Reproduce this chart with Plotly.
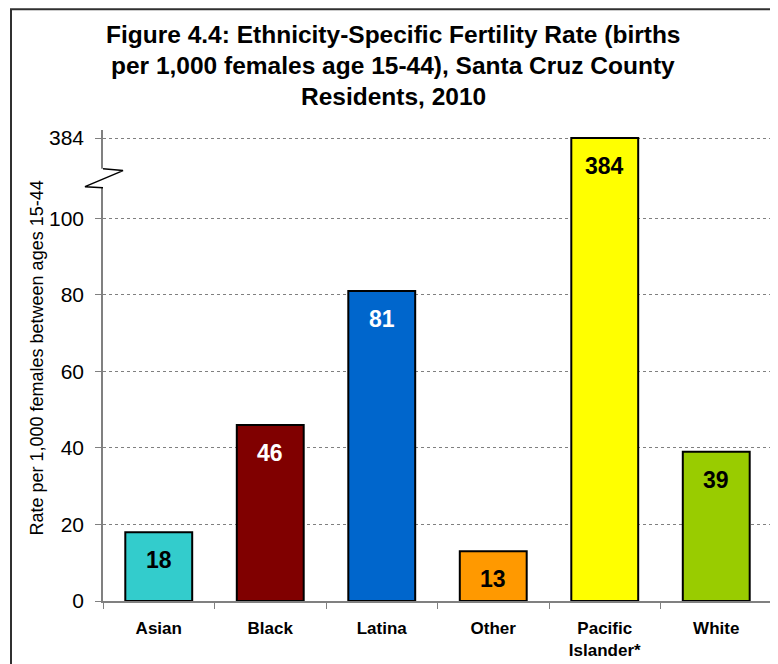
import plotly.graph_objects as go

# ---- data ----
categories = ["Asian", "Black", "Latina", "Other", "Pacific Islander*", "White"]
tick_labels_x = ["Asian", "Black", "Latina", "Other", "Pacific<br>Islander*", "White"]
rates = [18, 46, 81, 13, 384, 39]
bar_colors = ["#33CCCC", "#800000", "#0066CC", "#FF9900", "#FFFF00", "#99CC00"]
label_colors = ["black", "white", "white", "black", "black", "black"]
y_tick_values = [0, 20, 40, 60, 80, 100, 384]
title_lines = [
    "Figure 4.4: Ethnicity-Specific Fertility Rate (births",
    "per 1,000 females age 15-44), Santa Cruz County",
    "Residents, 2010",
]
y_title = "Rate per 1,000 females between ages 15-44"

# ---- broken axis mapping: 0-100 linear, then compressed segment up to the max ----
BREAK = 100
MAX_VAL = max(rates)
UPPER_SPAN = 21.0  # display units used for the segment above the break


def disp(v):
    if v <= BREAK:
        return v
    return BREAK + (v - BREAK) / (MAX_VAL - BREAK) * UPPER_SPAN


disp_rates = [disp(v) for v in rates]
disp_ticks = [disp(v) for v in y_tick_values]

FONT = "Liberation Sans, Arial, sans-serif"
W, H = 778, 664
ML, MR, MT, MB = 95, 14, 122, 68
plot_w = W - ML - MR
plot_h = H - MT - MB
Y_TOP = plot_h / 3.85


def px_x(x):  # figure pixel -> paper x
    return (x - ML) / plot_w


def px_y(y):  # figure pixel (from top) -> paper y
    return (H - MB - y) / plot_h


fig = go.Figure()
fig.add_trace(go.Bar(
    x=categories, y=disp_rates,
    marker=dict(color=bar_colors, line=dict(color="black", width=2)),
    width=0.6, hoverinfo="skip",
))

annotations = []
for c, dv, v, col in zip(categories, disp_rates, rates, label_colors):
    annotations.append(dict(
        x=c, y=dv, xref="x", yref="y", text=f"<b>{v}</b>", showarrow=False,
        yshift=-28, yanchor="middle",
        font=dict(family=FONT, size=23, color=col),
    ))

# title lines
for i, line in enumerate(title_lines):
    annotations.append(dict(
        x=px_x(385), y=px_y(26 + 31 * i), xref="paper", yref="paper",
        text=f"<b>{line}</b>", showarrow=False, xanchor="center", yanchor="middle",
        font=dict(family=FONT, size=24.5, color="black"),
    ))

# y-axis title as rotated annotation
annotations.append(dict(
    x=px_x(29), y=px_y(352), xref="paper", yref="paper",
    text=y_title, textangle=-90,
    showarrow=False, xanchor="center", yanchor="middle",
    font=dict(family=FONT, size=18, color="black"),
))

shapes = [
    # outer chart border
    dict(type="rect", xref="paper", yref="paper",
         x0=px_x(3), x1=px_x(764),
         y0=-0.5, y1=px_y(0.5),
         line=dict(color="#303030", width=2), fillcolor="rgba(0,0,0,0)", layer="above"),
    # mask of axis line at the break
    dict(type="rect", xref="paper", yref="y", xsizemode="pixel", xanchor=0,
         x0=-2, x1=2, y0=108.0, y1=113.0,
         fillcolor="white", line=dict(width=0), layer="above"),
    # zigzag break mark
    dict(type="path", xref="paper", yref="y", xsizemode="pixel", xanchor=0,
         path="M 0,108.0 L -18,108.3 L 20,112.5 L 0,113.0",
         line=dict(color="black", width=1.5), layer="above"),
]

fig.update_layout(
    width=W, height=H,
    margin=dict(l=ML, r=MR, t=MT, b=MB),
    paper_bgcolor="white", plot_bgcolor="white",
    showlegend=False,
    bargap=0.4,
    annotations=annotations,
    shapes=shapes,
)

fig.update_xaxes(
    type="category", categoryorder="array", categoryarray=categories,
    tickvals=categories,
    ticktext=["<b>" + t.replace("<br>", "</b><br><b>") + "</b>" for t in tick_labels_x],
    tickson="boundaries", ticks="outside", ticklen=6, tickcolor="#808080",
    showline=True, linecolor="#808080", linewidth=1.5,
    showgrid=False, ticklabelstandoff=11,
    tickfont=dict(family=FONT, size=17, color="black"),
    fixedrange=True,
)

fig.update_yaxes(
    range=[0, Y_TOP],
    tickvals=disp_ticks, ticktext=[str(v) for v in y_tick_values],
    ticks="outside", ticklen=6, tickcolor="#808080",
    showline=True, linecolor="#808080", linewidth=1.5,
    showgrid=True, gridcolor="#808080", griddash="dot", gridwidth=1,
    zeroline=False, ticklabelstandoff=7,
    tickfont=dict(family=FONT, size=21, color="black"),
    fixedrange=True,
)

fig.write_html("out.html")
